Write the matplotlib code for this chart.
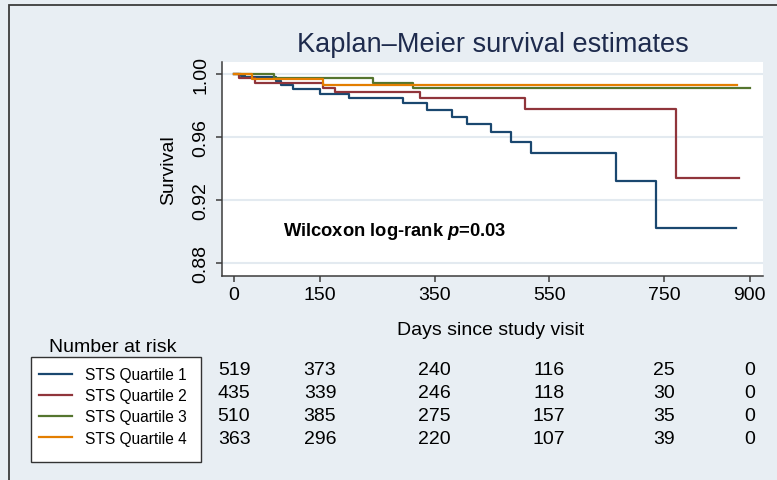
import matplotlib
matplotlib.use("Agg")
import matplotlib.pyplot as plt
from matplotlib import transforms
from matplotlib.patches import Rectangle

plt.rcParams["font.family"] = ["Liberation Sans", "DejaVu Sans"]
plt.rcParams["mathtext.fontset"] = "custom"
plt.rcParams["mathtext.bfit"] = "Liberation Sans:bold:italic"
plt.rcParams["mathtext.rm"] = "Liberation Sans:bold"

# Kaplan-Meier curves (days, survival)
q1_t = [0, 12, 19, 74, 82, 103, 150, 200, 295, 336, 380, 406, 448, 483, 519, 666, 737, 876]
q1_s = [1.0, 0.999, 0.9979, 0.9954, 0.9932, 0.9905, 0.9873, 0.9846, 0.9814, 0.9771,
        0.9729, 0.9683, 0.9634, 0.957, 0.950, 0.932, 0.9022, 0.9022]
q2_t = [0, 8, 37, 155, 176, 324, 508, 772, 881]
q2_s = [1.0, 0.9973, 0.9943, 0.9913, 0.9884, 0.9846, 0.9778, 0.9338, 0.9338]
q3_t = [0, 69, 242, 313, 900]
q3_s = [1.0, 0.9975, 0.9943, 0.9911, 0.9911]
q4_t = [0, 31, 155, 877]
q4_s = [1.0, 0.9966, 0.9932, 0.9932]

labels = ["STS Quartile 1", "STS Quartile 2", "STS Quartile 3", "STS Quartile 4"]
colors = ["#1a476f", "#90353b", "#55752f", "#e37e00"]

# Number at risk table
risk_times = [0, 150, 350, 550, 750, 900]
risk_q1 = [519, 373, 240, 116, 25, 0]
risk_q2 = [435, 339, 246, 118, 30, 0]
risk_q3 = [510, 385, 275, 157, 35, 0]
risk_q4 = [363, 296, 220, 107, 39, 0]

yticks = [0.88, 0.92, 0.96, 1.00]

W, H = 777, 481
bg = "#e8eef3"
dark = "#3c3c3c"


def fx(x):
    return x / W


def fy(y):
    return 1 - y / H


fig = plt.figure(figsize=(W / 100, H / 100), dpi=100, facecolor=bg)

# outer frame (only top/left edges visible)
fig.patches.append(Rectangle((fx(9), -0.5), 2, fy(6) + 0.5, transform=fig.transFigure,
                             fill=False, edgecolor=dark, lw=1.3))

ax = fig.add_axes([fx(222), fy(277), fx(763 - 222), (277 - 63) / H])
ax.set_facecolor("white")

curves = [(q1_t, q1_s), (q2_t, q2_s), (q3_t, q3_s), (q4_t, q4_s)]
handles = []
for (t, s), c, lab in zip(curves, colors, labels):
    (ln,) = ax.step(t, s, where="post", color=c, lw=1.6, label=lab)
    handles.append(ln)

ax.set_xlim(-21, 923)
ax.set_ylim(0.8717, 1.0076)
ax.set_xticks(risk_times)
ax.set_yticks(yticks)
ax.set_yticklabels(["{:.2f}".format(v) for v in yticks], rotation=90, va="center")
ax.grid(axis="y", color="#e3eaf0", lw=1.5)
ax.set_axisbelow(True)
for side in ["top", "right"]:
    ax.spines[side].set_visible(False)
for side in ["left", "bottom"]:
    ax.spines[side].set_color(dark)
    ax.spines[side].set_linewidth(1.1)
ax.tick_params(axis="both", length=4, width=1.1, color=dark, labelsize=14)
ax.tick_params(axis="y", pad=5)
ax.tick_params(axis="x", pad=3)

ax.set_ylabel("Survival", fontsize=14)
ax.yaxis.set_label_coords(-0.083, 0.5)
ax.set_xlabel("Days since study visit", fontsize=14)
ax.xaxis.set_label_coords(0.497, -0.21)
ax.set_title("Kaplan\u2013Meier survival estimates", fontsize=19.5, color="#1e2b4d", pad=8)

ax.text(85, 0.9005, r"Wilcoxon log-rank $\mathbfit{p}$=0.03", fontsize=13.2,
        fontweight="bold", va="center", ha="left")

# number at risk
fig.text(fx(112.5), fy(352), "Number at risk", fontsize=14, ha="center", va="baseline")
trans = transforms.blended_transform_factory(ax.transData, fig.transFigure)
for row, yb in zip([risk_q1, risk_q2, risk_q3, risk_q4], [375, 398, 421, 444]):
    for t, n in zip(risk_times, row):
        fig.text(t, fy(yb), str(n), transform=trans, fontsize=14, ha="center", va="baseline")

# legend box
fig.patches.append(Rectangle((fx(31), fy(463)), fx(170), (463 - 357.7) / H,
                             transform=fig.transFigure, facecolor="white",
                             edgecolor="#333333", lw=1.0))
fig.legend(handles=handles, loc="upper left", bbox_to_anchor=(fx(39), fy(368)),
           frameon=False, fontsize=11.2, borderpad=0, borderaxespad=0,
           handlelength=2.1, handletextpad=0.85, labelspacing=0.4)

fig.savefig("out.png", dpi=100, facecolor=bg)
